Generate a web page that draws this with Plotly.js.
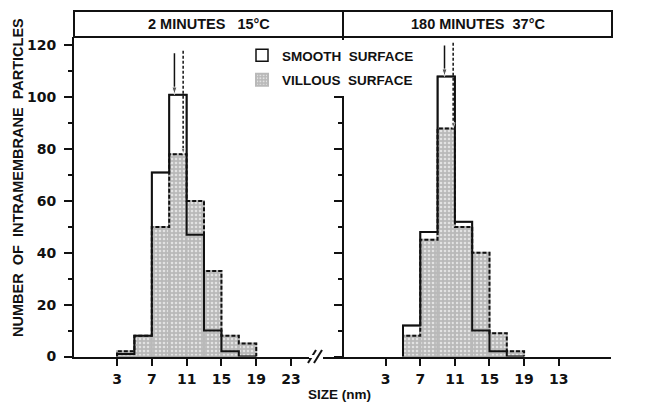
<!DOCTYPE html>
<html><head><meta charset="utf-8">
<script src="https://cdn.plot.ly/plotly-3.0.1.min.js"></script>
<style>html,body{margin:0;padding:0;background:#fff}#chart{width:658px;height:402px}</style>
</head><body><div id="chart"></div>
<script>
// ---- data ----
const binStartsLeft = [3, 5, 7, 9, 11, 13, 15, 17];
const smoothLeft    = [1, 8, 71, 101, 47, 10, 2, 0];
const villousLeft   = [2, 8, 50, 78, 60, 33, 8, 5];
const binStartsRight = [5, 7, 9, 11, 13, 15, 17];
const smoothRight    = [12, 48, 108, 52, 10, 2, 0];
const villousRight   = [8, 45, 88, 50, 40, 9, 2];
const panelTitles = ['2 MINUTES\u00a0\u00a0 15°C', '180 MINUTES\u00a0 37°C'];
const seriesNames = ['SMOOTH\u00a0\u00a0SURFACE', 'VILLOUS\u00a0\u00a0SURFACE'];
const yTickVals = [0, 20, 40, 60, 80, 100, 120];
const yTickTextRight = ['\u2007\u20070', '\u200720', '\u200740', '\u200760', '\u200780', '100', '120'];
const xTickVals = [3, 7, 11, 15, 19, 23];
const xTickTextLeft = ['3', '7', '11', '15', '19', '23'];
const xTickTextRight = ['3', '7', '11', '15', '19', '13'];
const meanSmooth = [9.6, 9.8];
const meanVillous = [10.6, 10.8];
const arrowTop = [117, 120];
const BIN = 2;

// ---- helpers ----
const centers = s => s.map(v => v + BIN / 2);
function envelope(starts, vals) {
  return { x: [starts[0], ...starts, starts[starts.length - 1] + BIN], y: [0, ...vals, 0] };
}
function valueAt(starts, vals, m) {
  const i = starts.findIndex(s => m >= s && m < s + BIN);
  return vals[i];
}
const INK = '#111';
const GRAY = '#b9b9b9';

function panelTraces(starts, smooth, villous, k, xa, ya, showLeg) {
  const es = envelope(starts, smooth), ev = envelope(starts, villous);
  return [
    { type: 'bar', x: centers(starts), y: smooth, width: BIN, xaxis: xa, yaxis: ya,
      name: seriesNames[0], legendgroup: 'smooth', showlegend: showLeg,
      marker: { color: '#ffffff', line: { color: INK, width: 1.5 } } },
    { type: 'bar', x: centers(starts), y: villous, width: BIN, xaxis: xa, yaxis: ya,
      name: seriesNames[1], legendgroup: 'villous', showlegend: showLeg,
      marker: { color: GRAY, line: { color: GRAY, width: 2 },
        pattern: { shape: '.', fgcolor: '#e2e2e2', bgcolor: GRAY, size: 4, solidity: 0.35 } } },
    { type: 'scatter', mode: 'lines', x: ev.x, y: ev.y, xaxis: xa, yaxis: ya, showlegend: false,
      line: { shape: 'hv', color: INK, width: 2, dash: '4px,2px' } },
    { type: 'scatter', mode: 'lines', x: es.x, y: es.y, xaxis: xa, yaxis: ya, showlegend: false,
      line: { shape: 'hv', color: INK, width: 2 } },
    { type: 'scatter', mode: 'lines+markers', xaxis: xa, yaxis: ya, showlegend: false,
      x: [meanSmooth[k], meanSmooth[k]], y: [arrowTop[k], valueAt(starts, smooth, meanSmooth[k])],
      line: { color: INK, width: 1.5 },
      marker: { symbol: 'arrow', angleref: 'previous', size: [0, 8], color: INK } },
    { type: 'scatter', mode: 'lines+markers', xaxis: xa, yaxis: ya, showlegend: false,
      x: [meanVillous[k], meanVillous[k]], y: [arrowTop[k] + 1, valueAt(starts, villous, meanVillous[k])],
      line: { color: INK, width: 1.5, dash: '3px,2px' },
      marker: { symbol: 'arrow', angleref: 'previous', size: [0, 6], color: INK } }
  ];
}

const data = [
  ...panelTraces(binStartsLeft, smoothLeft, villousLeft, 0, 'x', 'y', true),
  ...panelTraces(binStartsRight, smoothRight, villousRight, 1, 'x2', 'y2', false)
];

// ---- layout ----
const X = p => p / 658, Y = p => 1 - p / 402;
const yRange = [0, 123.26];
const tickFont = { family: 'DejaVu Sans', size: 14, color: INK, weight: 'bold' };
function yAx(extra, inside) {
  return Object.assign({
    range: yRange, domain: [Y(356.5), Y(37)], showgrid: false, zeroline: false, fixedrange: true,
    tickmode: 'array', tickvals: yTickVals, ticklen: 8, tickwidth: 2, tickcolor: INK,
    ticks: inside ? 'inside' : 'outside', showline: false, showticklabels: false, tickfont: tickFont,
    minor: { tickmode: 'linear', tick0: 0, dtick: 10, ticklen: 4, tickwidth: 2, tickcolor: INK,
      ticks: inside ? 'inside' : 'outside' }
  }, extra);
}
function xAx(extra) {
  return Object.assign({
    showgrid: false, zeroline: false, fixedrange: true, tickmode: 'array', tickvals: xTickVals,
    ticks: 'outside', ticklen: 7, tickwidth: 2, tickcolor: INK, showline: true, linewidth: 2,
    linecolor: INK, tickfont: tickFont, ticklabelstandoff: 2
  }, extra);
}

const layout = {
  width: 658, height: 402, autosize: false,
  margin: { l: 0, r: 0, t: 0, b: 0, pad: 0 },
  paper_bgcolor: '#fff', plot_bgcolor: 'rgba(0,0,0,0)',
  barmode: 'overlay', showlegend: true,
  xaxis: xAx({ domain: [X(74), X(310)], range: [-1.943, 25.18], anchor: 'y', ticktext: xTickTextLeft }),
  xaxis2: xAx({ domain: [X(323), X(611)], range: [-4.249, 29.05], anchor: 'y2', ticktext: xTickTextRight }),
  yaxis: yAx({ anchor: 'x', side: 'left', showline: true, linewidth: 2, linecolor: INK,
    showticklabels: true, ticklabelstandoff: 5 }, false),
  yaxis3: yAx({ overlaying: 'y', anchor: 'x', side: 'left' }, true),
  yaxis2: yAx({ anchor: 'free', position: X(343), side: 'left', showline: true, linewidth: 2, linecolor: INK }, false),
  yaxis4: yAx({ overlaying: 'y2', anchor: 'free', position: X(343), side: 'left' }, true),
  yaxis5: yAx({ overlaying: 'y2', anchor: 'x2', side: 'right', showline: true, linewidth: 2, linecolor: INK,
    showticklabels: true, ticktext: yTickTextRight, ticklabelstandoff: 6 }, false),
  yaxis6: yAx({ overlaying: 'y2', anchor: 'x2', side: 'right' }, true),
  legend: {
    x: X(242), y: Y(40), xanchor: 'left', yanchor: 'top', bgcolor: '#ffffff', borderwidth: 0,
    font: { family: 'Liberation Sans', size: 13.5, weight: 'bold', color: INK },
    traceorder: 'grouped', tracegroupgap: 4
  },
  shapes: [
    { type: 'rect', xref: 'paper', yref: 'paper', x0: X(74), x1: X(612), y0: Y(37), y1: Y(11),
      line: { color: INK, width: 2 }, fillcolor: 'rgba(0,0,0,0)' },
    { type: 'line', xref: 'paper', yref: 'paper', x0: X(343), x1: X(343), y0: Y(37), y1: Y(11),
      line: { color: INK, width: 2 } },
    { type: 'line', xref: 'paper', yref: 'paper', x0: X(308), x1: X(316), y0: Y(363), y1: Y(350),
      line: { color: INK, width: 2 } },
    { type: 'line', xref: 'paper', yref: 'paper', x0: X(314), x1: X(322), y0: Y(363), y1: Y(350),
      line: { color: INK, width: 2 } },
    { type: 'line', xref: 'paper', yref: 'paper', x0: X(309), x1: X(315), y0: Y(356.5), y1: Y(356.5),
      line: { color: '#fff', width: 3 } }
  ],
  annotations: [
    { text: panelTitles[0], xref: 'paper', yref: 'paper', x: X(209), y: Y(24), showarrow: false,
      xanchor: 'center', yanchor: 'middle', font: { family: 'Liberation Sans', size: 14.5, weight: 'bold', color: INK } },
    { text: panelTitles[1], xref: 'paper', yref: 'paper', x: X(478), y: Y(24), showarrow: false,
      xanchor: 'center', yanchor: 'middle', font: { family: 'Liberation Sans', size: 14.5, weight: 'bold', color: INK } },
    { text: 'NUMBER\u00a0\u00a0OF\u00a0\u00a0INTRAMEMBRANE\u00a0\u00a0PARTICLES', xref: 'paper', yref: 'paper',
      x: X(18), y: Y(178), textangle: -90, showarrow: false, xanchor: 'center', yanchor: 'middle',
      font: { family: 'Liberation Sans', size: 14.5, weight: 'bold', color: INK } },
    { text: 'SIZE (nm)', xref: 'paper', yref: 'paper', x: X(339), y: Y(394), showarrow: false,
      xanchor: 'center', yanchor: 'middle', font: { family: 'Liberation Sans', size: 13.5, weight: 'bold', color: INK } }
  ]
};

Plotly.newPlot('chart', data, layout, { staticPlot: true, displayModeBar: false });
</script>
</body></html>
